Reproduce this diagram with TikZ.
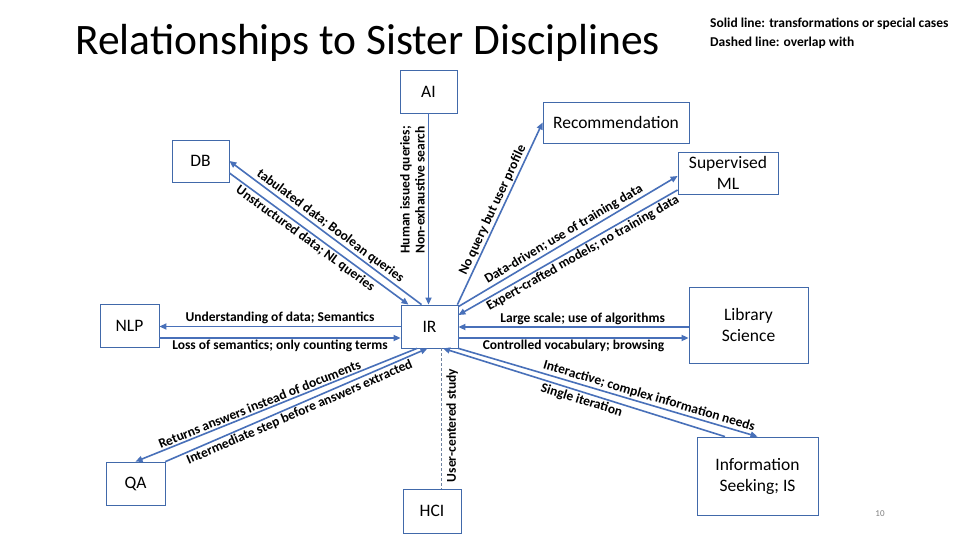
\documentclass[tikz,border=0pt]{standalone}
\usepackage{fontspec}
\setmainfont{Carlito}
\usetikzlibrary{calc,arrows.meta}
\definecolor{lnblue}{RGB}{72,112,185}
\definecolor{bxblue}{RGB}{65,105,170}
\definecolor{dshblue}{RGB}{110,130,160}
\begin{document}
\begin{tikzpicture}[x=1pt,y=-1pt,
  box/.style={draw=bxblue, line width=0.8pt, fill=white, inner sep=0pt, align=center, font=\fontsize{17.5}{21}\selectfont},
  flow/.style={draw=lnblue, line width=1.6pt, -{Triangle[length=7pt,width=6pt]}},
  lbl/.style={font=\bfseries\fontsize{13.5}{15}\selectfont, inner sep=1.5pt, text=black},
  overlap/.style={draw=dshblue, line width=0.8pt, dash pattern=on 3pt off 2pt},
]
\useasboundingbox (0,0) rectangle (960,540);
\fill[white] (0,0) rectangle (960,540);

% title and legend
\node[anchor=base west, font=\fontsize{43.5}{50}\selectfont, inner sep=0pt] (title) at (75,55) {Relationships to Sister Disciplines};
\node[anchor=base west, font=\bfseries\fontsize{13.5}{15}\selectfont, inner sep=0pt] (leg1) at (710,28) {Solid line: transformations or special cases};
\node[anchor=base west, font=\bfseries\fontsize{13.5}{15}\selectfont, inner sep=0pt] (leg2) at (710,47) {Dashed line: overlap with};
\node[font=\fontsize{9}{10}\selectfont, text=gray] (pg) at (880,514) {10};

% boxes
\node[box, minimum width=57pt, minimum height=43pt] (AI) at (428.5,91.5) {AI};
\node[box, minimum width=146pt, minimum height=41pt] (Rec) at (616,122.5) {Recommendation};
\node[box, minimum width=100pt, minimum height=42pt] (SML) at (728,173) {Supervised\\ML};
\node[box, minimum width=57pt, minimum height=42pt] (DB) at (200.5,161) {DB};
\node[box, minimum width=59pt, minimum height=43pt] (NLP) at (129.5,325.5) {NLP};
\node[box, minimum width=59pt, minimum height=43pt] (QA) at (135.5,483.5) {QA};
\node[box, minimum width=57pt, minimum height=43pt] (IR) at (429.5,326.5) {IR};
\node[box, minimum width=58pt, minimum height=44pt] (HCI) at (432,511) {HCI};
\node[box, minimum width=119pt, minimum height=76pt] (Lib) at (748.5,325) {Library\\Science};
\node[box, minimum width=121pt, minimum height=78pt] (IS) at (757.5,476) {Information\\Seeking; IS};

% DB
\draw[flow] ($(IR.north)+(-8,0)$) -- (DB.east)
  node[lbl, sloped, above, midway] {tabulated data; Boolean queries};
\draw[flow] ($(DB.east)+(0,12)$) -- ($(IR.north)+(-21,0)$)
  node[lbl, sloped, below, pos=0.45] {Unstructured data; NL queries};

% AI
\draw[flow] (AI.south) -- (AI.south |- IR.north)
  node[lbl, pos=0.4, rotate=90, anchor=south, align=center, inner sep=3pt] {Human issued queries;\\Non-exhaustive search};

% Recommendation
\draw[flow] ($(IR.north east)+(-1,0)$) -- (Rec.west)
  node[lbl, sloped, above, midway] {No query but user profile};

% Supervised ML
\draw[flow] ($(IR.north east)+(0,2)$) -- ($(SML.west)+(0,3)$)
  node[lbl, sloped, above, midway] {Data-driven; use of training data};
\draw[flow] ($(SML.west)+(0,17)$) -- ($(IR.east)+(0,-11.5)$)
  node[lbl, sloped, below, pos=0.45] {Expert-crafted models; no training data};

% Library Science
\draw[flow] ($(Lib.west)+(0,2)$) -- ($(IR.east)+(0,0.5)$)
  node[lbl, above, pos=0.46] {Large scale; use of algorithms};
\draw[flow] ($(IR.east)+(0,11.5)$) -- ($(Lib.west)+(0,13)$)
  node[lbl, below, midway] {Controlled vocabulary; browsing};

% NLP
\draw[flow] (IR.west) -- (IR.west -| NLP.east)
  node[lbl, above, midway] {Understanding of data; Semantics};
\draw[flow] ($(NLP.east)+(0,12.5)$) -- ($(IR.west)+(0,11.5)$)
  node[lbl, below, midway] {Loss of semantics; only counting terms};

% QA
\draw[flow] ($(IR.south)+(-12.5,0)$) -- (QA.north)
  node[lbl, sloped, above, pos=0.55] {Returns answers instead of documents};
\draw[flow] (QA.north east) -- ($(IR.south)+(-2,0)$)
  node[lbl, sloped, below, midway] {Intermediate step before answers extracted};

% HCI
\draw[overlap] ($(IR.south)+(11.5,0)$) -- ($(HCI.north)+(9,0)$)
  node[lbl, pos=0.55, rotate=90, anchor=north, inner sep=5pt] {User-centered study};

% Information Seeking
\draw[flow] (IR.south east) -- (IS.north)
  node[lbl, sloped, above, pos=0.63] {Interactive; complex information needs};
\draw[flow] ($(IS.north)+(-32.5,0)$) -- ($(IR.south)+(13.5,0)$)
  node[lbl, sloped, below, midway] {Single iteration};
\end{tikzpicture}
\end{document}
